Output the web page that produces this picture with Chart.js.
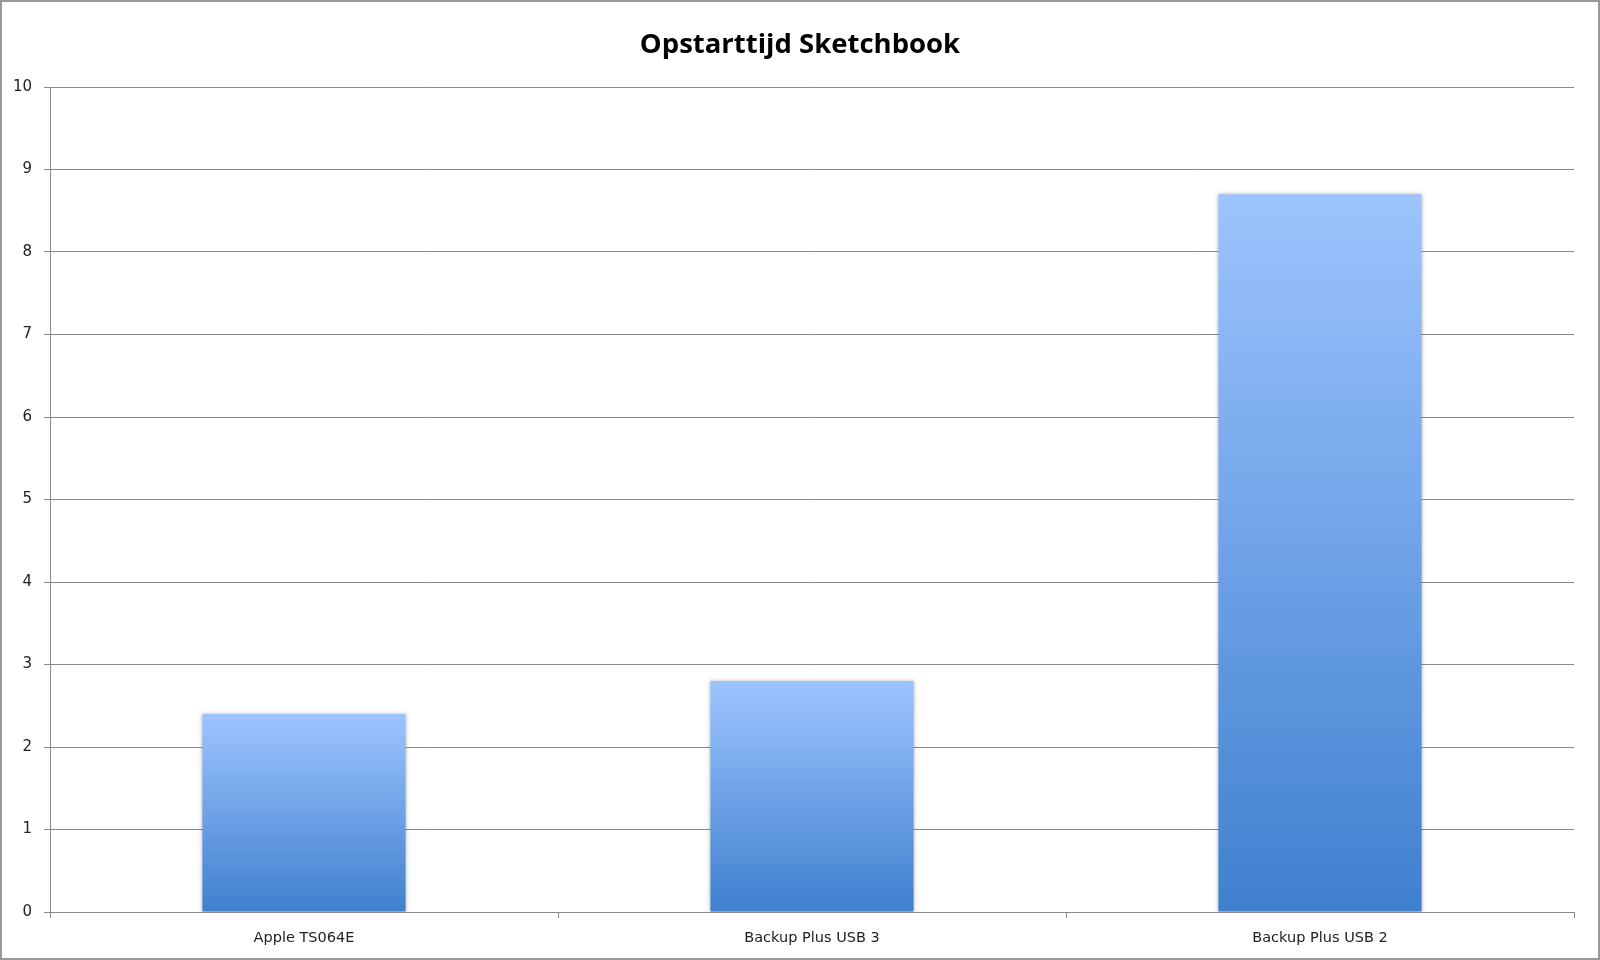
<!DOCTYPE html>
<html>
<head>
<meta charset="utf-8">
<script src="https://cdn.jsdelivr.net/npm/chart.js@4/dist/chart.umd.min.js"></script>
<style>
html,body{margin:0;padding:0;background:#fff;}
#wrap{width:1600px;height:960px;position:relative;}
</style>
</head>
<body>
<div id="wrap"><canvas id="c" width="1600" height="960"></canvas></div>
<script>
const categories = ["Apple TS064E", "Backup Plus USB 3", "Backup Plus USB 2"];
const values = [2.4, 2.8, 8.7];
const yTicks = [0, 1, 2, 3, 4, 5, 6, 7, 8, 9, 10];
const titleText = "Opstarttijd Sketchbook";

const gridColor = "#8a8a8a";

function barGradient(ctx) {
  const chart = ctx.chart;
  const area = chart.chartArea;
  if (!area || ctx.type !== 'data') return "#6a9fe6";
  const y = chart.scales.y;
  const top = y.getPixelForValue(ctx.parsed ? ctx.parsed.y : values[ctx.dataIndex]);
  const base = y.getPixelForValue(0);
  const g = chart.ctx.createLinearGradient(0, top, 0, base);
  g.addColorStop(0, "#9dc4fe");
  g.addColorStop(1, "#3f80cf");
  return g;
}

const frameAndShadow = {
  id: 'frameAndShadow',
  beforeDraw(chart) {
    const c = chart.ctx;
    c.save();
    c.fillStyle = "#fff";
    c.fillRect(0, 0, chart.width, chart.height);
    c.restore();
  },
  afterLayout(chart) {
    const t = chart.titleBlock;
    if (t) { t.left = 0; t.right = chart.width; t.width = chart.width; }
  },
  beforeDatasetsDraw(chart) {
    const c = chart.ctx;
    c.save();
    c.shadowColor = "rgba(0,0,0,0.28)";
    c.shadowBlur = 4;
    c.shadowOffsetX = 0;
    c.shadowOffsetY = 0;
  },
  afterDatasetsDraw(chart) {
    chart.ctx.restore();
  },
  afterDraw(chart) {
    const c = chart.ctx;
    c.save();
    c.strokeStyle = "#9a9a9a";
    c.lineWidth = 2;
    c.strokeRect(1, 1, chart.width - 2, chart.height - 2);
    c.restore();
  }
};

new Chart(document.getElementById('c'), {
  type: 'bar',
  data: {
    labels: categories,
    datasets: [{
      data: values,
      backgroundColor: barGradient,
      borderWidth: 0,
      barPercentage: 0.4,
      categoryPercentage: 1.0
    }]
  },
  options: {
    responsive: false,
    animation: false,
    devicePixelRatio: 1,
    layout: { padding: { left: 0, right: 26, top: 0, bottom: 0 } },
    plugins: {
      legend: { display: false },
      tooltip: { enabled: false },
      title: {
        display: true,
        text: titleText,
        color: "#000",
        font: { family: "'Open Sans', sans-serif", size: 27.5, weight: 'bold', lineHeight: 1.2 },
        padding: { top: 29, bottom: 25 }
      }
    },
    scales: {
      x: {
        offset: true,
        grid: {
          offset: true,
          drawOnChartArea: false,
          drawTicks: true,
          tickLength: 6,
          color: gridColor,
          lineWidth: 1
        },
        border: { display: true, color: gridColor, width: 1 },
        ticks: {
          color: "#222",
          font: { family: "'DejaVu Sans', sans-serif", size: 14.5 },
          padding: 12,
          maxRotation: 0
        },
        afterFit(scale) { scale.height = 48; }
      },
      y: {
        min: 0,
        max: 10,
        afterBuildTicks(scale) { scale.ticks = yTicks.map(v => ({ value: v })); },
        grid: {
          color: gridColor,
          lineWidth: 1,
          drawTicks: true,
          tickLength: 6
        },
        border: { display: true, color: gridColor, width: 1 },
        ticks: {
          color: "#222",
          font: { family: "'DejaVu Sans', sans-serif", size: 15 },
          padding: 12
        },
        afterFit(scale) { scale.width = 50; }
      }
    }
  },
  plugins: [frameAndShadow]
});
</script>
</body>
</html>
